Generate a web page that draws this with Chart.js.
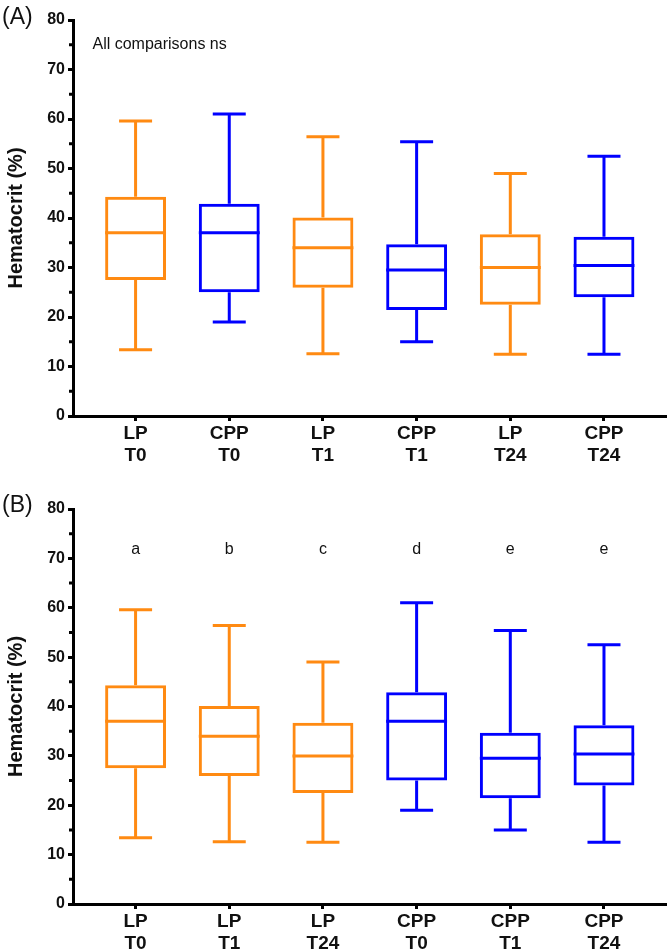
<!DOCTYPE html>
<html>
<head>
<title>Hematocrit box plots</title>
<script src="https://cdn.jsdelivr.net/npm/chart.js@4.4.0/dist/chart.umd.min.js"></script>
<style>
body { margin: 0; background: #fff; }
canvas { display: block; }
</style>
</head>
<body>
<canvas id="chartA" width="669" height="476"></canvas>
<canvas id="chartB" width="669" height="476"></canvas>
<script>
// groups in panel A order
var groups = ['LP', 'CPP', 'LP', 'CPP', 'LP', 'CPP'];
var times = ['T0', 'T0', 'T1', 'T1', 'T24', 'T24'];
var mins = [13.4, 19.0, 12.6, 15.0, 12.5, 12.5];
var q1s = [27.5, 25.0, 25.9, 21.4, 22.5, 24.0];
var medians = [37.0, 37.0, 34.0, 29.5, 30.0, 30.4];
var q3s = [44.3, 42.9, 40.1, 34.7, 36.7, 36.2];
var maxs = [59.6, 61.0, 56.4, 55.4, 49.0, 52.5];

// panel B shows the same boxes grouped by product
var orderA = [0, 1, 2, 3, 4, 5];
var orderB = [0, 2, 4, 1, 3, 5];
var lettersB = ['a', 'b', 'c', 'd', 'e', 'e'];
var noteA = 'All comparisons ns';

var yTicks = [0, 10, 20, 30, 40, 50, 60, 70, 80];
var groupColors = { LP: '#FF8A12', CPP: '#0000FF' };
var FONT = '"Liberation Sans", Arial, sans-serif';

var boxExtras = {
  id: 'boxExtras',
  afterDatasetsDraw: function (chart, args, o) {
    var ctx = chart.ctx, xs = chart.scales.x, ys = chart.scales.y;
    var meta = chart.getDatasetMeta(0);
    var area = chart.chartArea;
    o.order.forEach(function (k, i) {
      var x = xs.getPixelForValue(i);
      var half = meta.data[i].width / 2;
      var cap = 16.5;
      ctx.save();
      ctx.strokeStyle = groupColors[groups[k]];
      ctx.lineWidth = 3;
      ctx.beginPath();
      ctx.moveTo(x, ys.getPixelForValue(maxs[k]));
      ctx.lineTo(x, ys.getPixelForValue(q3s[k]));
      ctx.moveTo(x, ys.getPixelForValue(q1s[k]));
      ctx.lineTo(x, ys.getPixelForValue(mins[k]));
      ctx.moveTo(x - cap, ys.getPixelForValue(maxs[k]));
      ctx.lineTo(x + cap, ys.getPixelForValue(maxs[k]));
      ctx.moveTo(x - cap, ys.getPixelForValue(mins[k]));
      ctx.lineTo(x + cap, ys.getPixelForValue(mins[k]));
      ctx.moveTo(x - half, ys.getPixelForValue(medians[k]));
      ctx.lineTo(x + half, ys.getPixelForValue(medians[k]));
      ctx.stroke();
      ctx.restore();
    });

    // minor ticks on the y axis
    ctx.save();
    ctx.strokeStyle = '#000';
    ctx.lineWidth = 3;
    ctx.beginPath();
    for (var v = 5; v < 80; v += 10) {
      var py = ys.getPixelForValue(v);
      ctx.moveTo(area.left - 4, py);
      ctx.lineTo(area.left, py);
    }
    ctx.stroke();

    ctx.fillStyle = '#111';
    ctx.font = '23px ' + FONT;
    ctx.textAlign = 'left';
    ctx.textBaseline = 'alphabetic';
    ctx.fillText(o.panel, 2, area.top + o.panelDy);

    ctx.font = '16px ' + FONT;
    ctx.textBaseline = 'middle';
    if (o.note) {
      ctx.fillText(o.note, xs.getPixelForValue(-0.46), ys.getPixelForValue(75));
    }
    if (o.letters) {
      ctx.textAlign = 'center';
      o.letters.forEach(function (t, i) {
        ctx.fillText(t, xs.getPixelForValue(i), ys.getPixelForValue(71.7));
      });
    }
    ctx.restore();
  }
};

function makeChart(id, order, extra) {
  return new Chart(document.getElementById(id), {
    type: 'bar',
    data: {
      datasets: [{
        data: order.map(function (k, i) { return { x: i, y: [q1s[k], q3s[k]] }; }),
        backgroundColor: 'rgba(0,0,0,0)',
        borderColor: order.map(function (k) { return groupColors[groups[k]]; }),
        borderWidth: 3,
        borderSkipped: false,
        inflateAmount: 0,
        barPercentage: 0.65,
        categoryPercentage: 1
      }]
    },
    options: {
      responsive: false,
      animation: false,
      events: [],
      layout: { padding: { top: extra.top, right: 3, left: 0, bottom: 0 } },
      plugins: {
        legend: { display: false },
        tooltip: { enabled: false },
        boxExtras: { order: order, panel: extra.panel, panelDy: extra.panelDy, note: extra.note, letters: extra.letters }
      },
      scales: {
        x: {
          type: 'linear',
          offset: false,
          min: -0.668,
          max: 5.662,
          afterBuildTicks: function (s) {
            s.ticks = order.map(function (k, i) { return { value: i }; });
          },
          afterFit: function (s) { s.height = extra.xHeight; },
          ticks: {
            color: '#111',
            padding: 2,
            maxRotation: 0,
            autoSkip: false,
            font: { family: FONT, size: 19, weight: 'bold', lineHeight: 1.15 },
            callback: function (v) {
              var k = order[Math.round(v)];
              return [groups[k], times[k]];
            }
          },
          grid: { offset: false, drawOnChartArea: false, tickLength: 5, tickWidth: 3, tickColor: '#000' },
          border: { color: '#000', width: 3 }
        },
        y: {
          min: 0,
          max: 80,
          afterBuildTicks: function (s) {
            s.ticks = yTicks.map(function (v) { return { value: v }; });
          },
          afterFit: function (s) { s.width = 73; },
          ticks: {
            color: '#111',
            padding: 3,
            font: { family: FONT, size: 16, weight: 'bold' }
          },
          title: {
            display: true,
            text: 'Hematocrit (%)',
            color: '#111',
            padding: { top: 4, bottom: 0 },
            font: { family: FONT, size: 20, weight: 'bold' }
          },
          grid: { drawOnChartArea: false, tickLength: 5, tickWidth: 3, tickColor: '#000' },
          border: { color: '#000', width: 3 }
        }
      }
    },
    plugins: [boxExtras]
  });
}

makeChart('chartA', orderA, { top: 20, xHeight: 60, panel: '(A)', panelDy: 4, note: noteA });
makeChart('chartB', orderB, { top: 33, xHeight: 48, panel: '(B)', panelDy: 3, letters: lettersB });
</script>
</body>
</html>
